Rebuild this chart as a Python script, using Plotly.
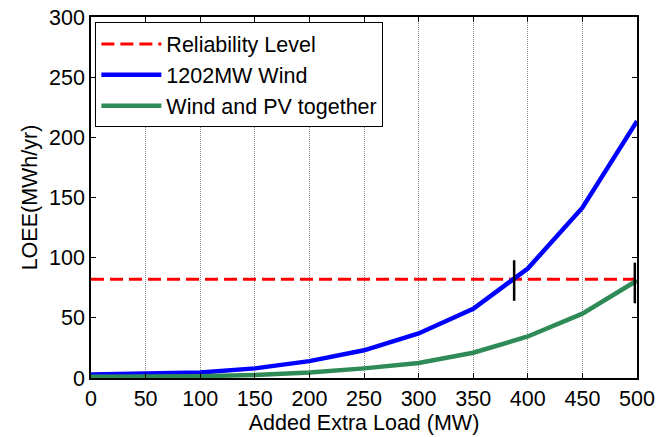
import plotly.graph_objects as go

# Added extra load (MW)
load_mw = [0, 50, 100, 150, 200, 250, 300, 350, 400, 450, 500]
# LOEE (MWh/yr) for each scenario
loee_wind = [3, 3.5, 4.5, 8, 14, 23, 37, 57.5, 91, 141.5, 213.5]
loee_wind_pv = [1, 1, 1.5, 2.5, 4.5, 8, 12.5, 21, 34.5, 53.5, 81]
# Reliability threshold
reliability_level = 82
# Load at which each curve crosses the threshold
cross_x = [387.5, 498]
cross_y = [81, 79]

font_family = "Liberation Sans, Arial, sans-serif"
fs = 21.5

fig = go.Figure()
fig.add_trace(go.Scatter(
    x=[load_mw[0], load_mw[-1]], y=[reliability_level, reliability_level],
    mode="lines", name="Reliability Level",
    line=dict(color="#ff0000", width=3, dash="13px,6px"),
))
fig.add_trace(go.Scatter(
    x=load_mw, y=loee_wind, mode="lines", name="1202MW Wind",
    line=dict(color="#0000ff", width=4.5),
))
fig.add_trace(go.Scatter(
    x=load_mw, y=loee_wind_pv, mode="lines", name="Wind and PV together",
    line=dict(color="#2e8b57", width=4.5),
))
fig.add_trace(go.Scatter(
    x=cross_x, y=cross_y, mode="markers", showlegend=False,
    marker=dict(symbol="line-ns", size=29, color="black",
                line=dict(color="black", width=2.5)),
    cliponaxis=False,
))

axis_common = dict(
    showline=True, linecolor="black", linewidth=1.5, mirror="ticks",
    ticks="inside", ticklen=5, tickcolor="black",
    tickfont=dict(family=font_family, size=fs, color="black"),
    zeroline=False, automargin=False,
)

fig.update_layout(
    width=671, height=437,
    margin=dict(l=91, r=34, t=17, b=59, autoexpand=False),
    paper_bgcolor="white", plot_bgcolor="white",
    font=dict(family=font_family, color="black"),
    xaxis=dict(
        range=[0, 500], tickmode="array", tickvals=load_mw,
        showgrid=True, gridcolor="#8c8c8c", gridwidth=1, griddash="1px,1px",
        title=dict(text="Added Extra Load (MW)", standoff=4,
                   font=dict(family=font_family, size=fs)),
        **axis_common,
    ),
    yaxis=dict(
        range=[0, 300], tickmode="array", tickvals=[0, 50, 100, 150, 200, 250, 300],
        showgrid=False,
        title=dict(text="LOEE(MWh/yr)", standoff=6,
                   font=dict(family=font_family, size=fs)),
        **axis_common,
    ),
    legend=dict(
        x=0.008, y=0.985, xanchor="left", yanchor="top",
        bgcolor="white", bordercolor="black", borderwidth=1,
        font=dict(family=font_family, size=fs, color="black"),
        itemwidth=60, tracegroupgap=0,
    ),
    showlegend=True,
)

fig.write_html("out.html")
